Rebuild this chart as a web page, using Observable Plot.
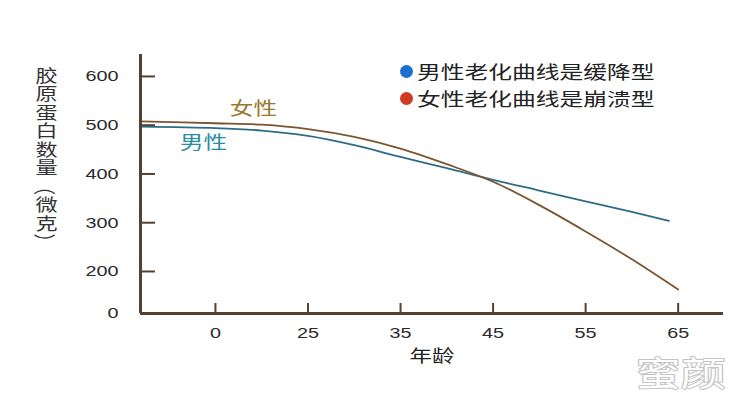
<!DOCTYPE html>
<html lang="zh-CN">
<head>
<meta charset="utf-8">
<script src="https://cdn.jsdelivr.net/npm/d3@7"></script>
<script src="https://cdn.jsdelivr.net/npm/@observablehq/plot@0.6"></script>
<style>
  body { margin: 0; background: #fff; }
  #wrap { position: relative; width: 749px; height: 397px; overflow: hidden; }
  #ytitle {
    position: absolute; left: 35px; top: 67px;
    writing-mode: vertical-rl;
    font-family: "Noto Sans CJK SC", sans-serif;
    font-size: 17px; line-height: 22px; letter-spacing: 1.5px;
    color: #333; transform: scaleX(1.3); transform-origin: center top;
  }
  #ytitle .side { text-orientation: sideways; }
  .leg { position: absolute; left: 400px; height: 20px; display: flex; align-items: center;
         font-family: "Noto Sans CJK SC", sans-serif; font-size: 18px; color: #222; }
  .leg .dot { width: 13px; height: 13px; border-radius: 50%; margin-right: 4px; flex: none; }
  .leg .txt { display: inline-block; transform: scaleX(1.32); transform-origin: left center; white-space: nowrap; }
</style>
</head>
<body>
<div id="wrap">
  <div id="ytitle" lang="zh-CN"></div>
  <div id="legend"></div>
</div>
<script>
// ---- data ----
// x positions are tick slots: 0 → age "0", 1 → "25", 2 → "35", 3 → "45", 4 → "55", 5 → "65"
const ageLabels = ["0", "25", "35", "45", "55", "65"];
const tickSlots = [0, 1, 2, 3, 4, 5];
const yTickValues = [200, 300, 400, 500, 600];
const yBreakLabel = "0";
const seriesNames = ["男性", "女性"];
const legendLabels = ["男性老化曲线是缓降型", "女性老化曲线是崩溃型"];
const maleSlot   = [-0.81, 0,   0.5, 1,   1.5, 2,   2.5, 3,   3.5, 4,   4.5, 4.9];
const maleValue  = [497,   494, 489, 478, 459, 435, 412, 388, 366, 344, 322, 304];
const femaleSlot  = [-0.81, 0,   0.5, 1,   1.5, 2,   2.5, 3,   3.5, 4,   4.5, 5];
const femaleValue = [508,   504, 501, 492, 476, 452, 420, 384, 336, 282, 225, 163];
const yTitle = "胶原蛋白数量（微克）";
const xTitle = "年龄";
const watermark = "蜜颜";

// ---- layout / style ----
const W = 749, H = 397;
const mL = 140, mR = 26, mT = 54, mB = 84;
const xMin = -0.81, xMax = 5.49;
const yMin = 113.8, yMax = 645;
const axisColor = "#54402f";
const maleColor = "#2f6c86", femaleColor = "#7a5530";
const maleLabelColor = "#2a8ea3", femaleLabelColor = "#9a782c";
const CJK = "Noto Sans CJK SC, sans-serif";
const SX = 1.32; // horizontal stretch of the lettering

const male = maleSlot.map((s, i) => ({slot: s, value: maleValue[i]}));
const female = femaleSlot.map((s, i) => ({slot: s, value: femaleValue[i]}));
const plotW = W - mL - mR, plotH = H - mT - mB;

const chart = Plot.plot({
  width: W, height: H,
  marginLeft: mL, marginRight: mR, marginTop: mT, marginBottom: mB,
  x: {domain: [xMin, xMax], axis: null},
  y: {domain: [yMin, yMax], axis: null},
  style: {fontFamily: "Liberation Sans, Arial, sans-serif", fontSize: "15px", color: "#2a2a2a", background: "transparent"},
  marks: [
    Plot.ruleY(yTickValues, {stroke: axisColor, strokeWidth: 2, insetRight: plotW - 15}),
    Plot.ruleX(tickSlots, {stroke: axisColor, strokeWidth: 2, insetTop: plotH - 10}),
    Plot.line(male, {x: "slot", y: "value", stroke: maleColor, strokeWidth: 1.8, curve: "catmull-rom"}),
    Plot.line(female, {x: "slot", y: "value", stroke: femaleColor, strokeWidth: 1.8, curve: "catmull-rom"}),
    Plot.ruleX([xMin], {stroke: axisColor, strokeWidth: 3}),
    Plot.ruleY([yMin], {stroke: axisColor, strokeWidth: 3, x1: xMin, x2: xMax}),
    Plot.axisY([yMin, ...yTickValues], {tickSize: 0, tickPadding: 22, label: null,
      tickFormat: d => d === yMin ? yBreakLabel : String(d), fill: "#2a2a2a"}),
    Plot.axisX(tickSlots, {tickSize: 0, tickPadding: 14, label: null,
      tickFormat: d => ageLabels[d], fill: "#2a2a2a"}),
    Plot.text([{slot: 0.41, value: 532, t: seriesNames[1]}], {x: "slot", y: "value", text: "t",
      fill: femaleLabelColor, fontSize: 18, fontFamily: CJK}),
    Plot.text([{slot: -0.13, value: 462, t: seriesNames[0]}], {x: "slot", y: "value", text: "t",
      fill: maleLabelColor, fontSize: 18, fontFamily: CJK}),
    Plot.text([xTitle], {frameAnchor: "bottom", dy: 48, fontSize: 17, fontFamily: CJK, fill: "#222"}),
    Plot.text([watermark], {frameAnchor: "bottom-right", textAnchor: "end", lineAnchor: "bottom",
      dx: 2, dy: 72, fontSize: 34, fontFamily: CJK, fill: "#fff", stroke: "#c4c4c4", strokeWidth: 2})
  ]
});

// stretch lettering horizontally like the original
chart.querySelectorAll("text").forEach(t => {
  let tr = t.getAttribute("transform") || "";
  const x = t.getAttribute("x");
  if (x != null) { tr += ` translate(${x},0)`; t.removeAttribute("x"); }
  t.setAttribute("transform", (tr + ` scale(${SX},1)`).trim());
});

const wrap = document.getElementById("wrap");
wrap.insertBefore(chart, wrap.firstChild);

// vertical y-axis title; brackets set sideways as in vertical typesetting
const yt = document.getElementById("ytitle");
for (const ch of yTitle) {
  if (ch === "（" || ch === "）") {
    const s = document.createElement("span");
    s.className = "side";
    s.textContent = ch;
    yt.append(s);
  } else {
    yt.append(document.createTextNode(ch));
  }
}

const legend = document.getElementById("legend");
const dotColors = ["#1f6fd0", "#d23a24"];
const legTops = [61, 88];
legendLabels.forEach((lab, i) => {
  const row = document.createElement("div");
  row.className = "leg";
  row.style.top = legTops[i] + "px";
  const dot = document.createElement("span");
  dot.className = "dot"; dot.style.background = dotColors[i];
  const txt = document.createElement("span");
  txt.className = "txt"; txt.textContent = lab;
  row.append(dot, txt);
  legend.append(row);
});
</script>
</body>
</html>
